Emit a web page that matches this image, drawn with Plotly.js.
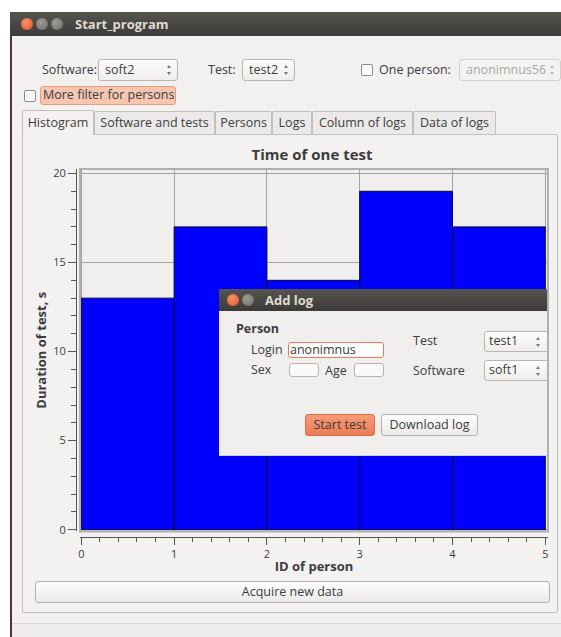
<!DOCTYPE html>
<html><head><meta charset="utf-8">
<script src="https://cdn.plot.ly/plotly-3.0.1.min.js"></script>
<style>
body{margin:0;width:561px;height:637px;overflow:hidden;background:#fff;font-family:"Open Sans",sans-serif;font-size:12.5px;color:#3c3c3c;position:relative}
.a{position:absolute;box-sizing:border-box}
.t{position:absolute;white-space:nowrap;line-height:16px}
.circ{position:absolute;width:12px;height:12px;border-radius:50%}
.close{background:radial-gradient(circle at 40% 35%,#f7936c,#df5428)}
.min{background:radial-gradient(circle at 40% 35%,#9d9b96,#6c6b66)}
.combo{position:absolute;box-sizing:border-box;border:1px solid #b9b5ae;border-radius:3px;background:linear-gradient(#fcfcfb,#efeeec);line-height:19px;padding-left:6px;white-space:nowrap}
.arr{position:absolute;right:6px;top:5px;width:0;height:0;border-left:2.5px solid transparent;border-right:2.5px solid transparent;border-bottom:3px solid #777}
.arr2{position:absolute;right:6px;top:12px;width:0;height:0;border-left:2.5px solid transparent;border-right:2.5px solid transparent;border-top:3px solid #777}
.chk{position:absolute;width:12px;height:12px;box-sizing:border-box;border:1px solid #8f8c87;border-radius:2px;background:#fbfbfb}
.tab{position:absolute;top:111px;height:23px;box-sizing:border-box;border:1px solid #c2bfba;border-bottom:none;background:#ebeae8;line-height:21px;text-align:center;border-radius:2px 2px 0 0}
.btn{position:absolute;box-sizing:border-box;border:1px solid #b5b1aa;border-radius:3px;background:linear-gradient(#fdfdfd,#ebeae8);text-align:center;line-height:20px}
.inp{position:absolute;box-sizing:border-box;border:1px solid #b9b5ae;border-radius:3px;background:#fafafa}
</style>
</head><body>
<!-- window chrome -->
<div class="a" style="left:10px;top:12px;width:551px;height:625px;background:#f2f1f0;border-left:2px solid #5a2a4f"></div>
<div class="a" style="left:10px;top:12px;width:551px;height:24px;background:linear-gradient(#55544f,#3c3b37)"></div>
<div class="circ close" style="left:21px;top:18px"></div>
<div class="circ min" style="left:36px;top:18px"></div>
<div class="circ min" style="left:51px;top:18px"></div>
<div class="t" style="left:75px;top:16px;color:#dfdbd2;font-weight:bold;font-size:13px">Start_program</div>

<!-- top controls -->
<div class="t" style="left:42px;top:62px">Software:</div>
<div class="combo" style="left:98px;top:59px;width:80px;height:22px">soft2<div class="arr"></div><div class="arr2"></div></div>
<div class="t" style="left:208px;top:62px">Test:</div>
<div class="combo" style="left:242px;top:59px;width:53px;height:22px">test2<div class="arr"></div><div class="arr2"></div></div>
<div class="chk" style="left:361px;top:64px"></div>
<div class="t" style="left:379px;top:62px">One person:</div>
<div class="combo" style="left:459px;top:59px;width:102px;height:22px;color:#aaa7a2;background:#f4f3f2;border-color:#d3d0cb">anonimnus56<div class="arr" style="border-bottom-color:#bbb"></div><div class="arr2" style="border-top-color:#bbb"></div></div>
<div class="chk" style="left:24px;top:90px"></div>
<div class="a" style="left:40px;top:86px;width:136px;height:19px;background:#f5c6b1;border:1px solid #e69c7d;border-radius:3px"></div>
<div class="t" style="left:43px;top:87px">More filter for persons</div>

<!-- tabs -->
<div class="a" style="left:22px;top:134px;width:536px;height:479px;border:1px solid #c4c1bc;background:#f3f2f1;border-radius:2px"></div>
<div class="tab" style="left:22px;width:72px;top:110px;height:25px;background:#f3f2f1;line-height:23px">Histogram</div>
<div class="tab" style="left:94px;width:121px">Software and tests</div>
<div class="tab" style="left:215px;width:57px">Persons</div>
<div class="tab" style="left:272px;width:40px">Logs</div>
<div class="tab" style="left:312px;width:101px">Column of logs</div>
<div class="tab" style="left:413px;width:83px">Data of logs</div>

<div class="btn" style="left:35px;top:581px;width:515px;height:22px">Acquire new data</div>
<div class="a" style="left:12px;top:623px;width:549px;height:14px;background:#eeedeb;border-top:1px solid #dcd9d4"></div>

<!-- chart -->
<div id="chart" class="a" style="left:0;top:0;width:561px;height:637px;z-index:2;pointer-events:none"></div>

<!-- dialog -->
<div class="a" style="left:219px;top:289px;width:328px;height:167px;z-index:3;overflow:hidden;background:#f0efee;border-bottom:1px solid #c9d0dc">
  <div class="a" style="left:0;top:0;width:328px;height:22px;background:linear-gradient(#55544f,#3c3b37)"></div>
  <div class="circ close" style="left:8px;top:5px"></div>
  <div class="circ min" style="left:23px;top:5px"></div>
  <div class="t" style="left:46px;top:3px;color:#dfdbd2;font-weight:bold;font-size:13px">Add log</div>
  <div class="t" style="left:17px;top:32px;font-weight:bold">Person</div>
  <div class="t" style="left:32px;top:53px">Login</div>
  <div class="inp" style="left:69px;top:53px;width:96px;height:16px;border-color:#e27c5c;background:#fbfbfb"></div>
  <div class="t" style="left:71px;top:53px">anonimnus</div>
  <div class="t" style="left:32px;top:73px">Sex</div>
  <div class="inp" style="left:70px;top:74px;width:30px;height:14px"></div>
  <div class="t" style="left:106px;top:74px">Age</div>
  <div class="inp" style="left:135px;top:74px;width:30px;height:14px"></div>
  <div class="t" style="left:194px;top:44px">Test</div>
  <div class="combo" style="left:265px;top:42px;width:66px;height:21px;line-height:18px;padding-left:4px">test1<div class="arr" style="right:9px"></div><div class="arr2" style="right:9px"></div></div>
  <div class="t" style="left:194px;top:74px">Software</div>
  <div class="combo" style="left:265px;top:71px;width:66px;height:21px;line-height:18px;padding-left:4px">soft1<div class="arr" style="right:9px"></div><div class="arr2" style="right:9px"></div></div>
  <div class="btn" style="left:86px;top:125px;width:70px;height:22px;background:linear-gradient(#f59b77,#ec7c55);border-color:#d2704c">Start test</div>
  <div class="btn" style="left:162px;top:125px;width:97px;height:22px">Download log</div>
</div>

<script>
// data
const binStart = [0, 1, 2, 3, 4];          // ID of person (bin start)
const duration = [13, 17, 14, 19, 17];     // Duration of test, s
const xTickVals = [0, 1, 2, 3, 4, 5];
const yTickVals = [0, 5, 10, 15, 20];

const FONT = '"Open Sans", sans-serif';
const trace = {
  type: 'bar',
  x: binStart,
  y: duration,
  offset: 0,
  width: 1,
  marker: {color: '#0000ff', line: {color: '#0a0a3a', width: 1}},
  hoverinfo: 'none'
};

const layout = {
  width: 561, height: 637,
  margin: {l: 76, r: 13, t: 169, b: 100, pad: 0},
  paper_bgcolor: 'rgba(0,0,0,0)',
  plot_bgcolor: '#f0efee',
  showlegend: false,
  bargap: 0,
  font: {family: FONT, color: '#3c3c3c'},
  title: {
    text: 'Time of one test',
    font: {family: FONT, size: 15, color: '#3c3c3c', weight: 'bold'},
    xref: 'paper', x: 0.5, xanchor: 'center',
    yref: 'container', y: 1 - 155 / 637, yanchor: 'middle'
  },
  xaxis: {
    range: [-0.014, 5.029],
    domain: [0.0085, 1],
    anchor: 'free', position: 0,
    tickmode: 'array', tickvals: xTickVals,
    ticks: 'outside', ticklen: 7, tickwidth: 1, tickcolor: '#555',
    showline: true, linecolor: '#555', linewidth: 1,
    showgrid: true, gridcolor: '#a2a2a2', gridwidth: 1,
    zeroline: false,
    minor: {tick0: 0, dtick: 0.2, ticks: 'outside', ticklen: 4, tickcolor: '#555', showgrid: false},
    tickfont: {family: FONT, size: 11, color: '#3c3c3c'},
    title: {text: 'ID of person', font: {family: FONT, size: 13, color: '#3c3c3c', weight: 'bold'}, standoff: 1}
  },
  yaxis: {
    range: [-0.10, 20.25],
    domain: [0.015, 1],
    anchor: 'free', position: 0,
    tickmode: 'array', tickvals: yTickVals,
    ticks: 'outside', ticklen: 8, tickwidth: 1, tickcolor: '#555',
    showline: true, linecolor: '#555', linewidth: 1,
    showgrid: true, gridcolor: '#a2a2a2', gridwidth: 1,
    zeroline: false,
    minor: {tick0: 0, dtick: 1, ticks: 'outside', ticklen: 5, tickcolor: '#555', showgrid: false},
    tickfont: {family: FONT, size: 11, color: '#3c3c3c'},
    title: {text: 'Duration of test, s', font: {family: FONT, size: 13, color: '#3c3c3c', weight: 'bold'}, standoff: 2}
  },
  shapes: [{
    type: 'rect', xref: 'x domain', yref: 'y domain', x0: 0, x1: 1, y0: 0, y1: 1,
    line: {color: '#b0b0b0', width: 2}, layer: 'above'
  }]
};

Plotly.newPlot('chart', [trace], layout, {staticPlot: true, displayModeBar: false});
</script>
</body></html>
